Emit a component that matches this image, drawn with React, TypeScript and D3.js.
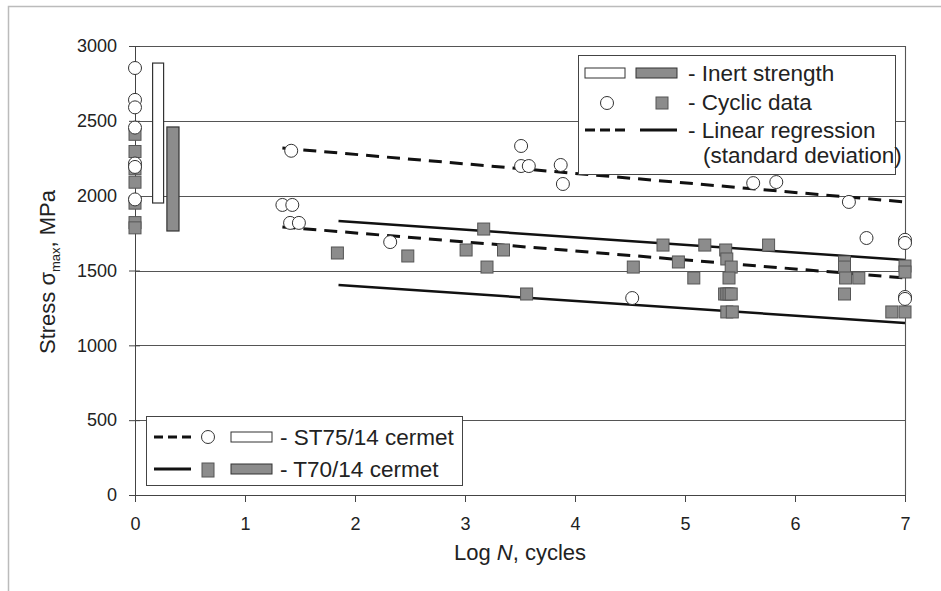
import { useRef, useEffect } from 'react';
import * as d3 from 'd3';

type Pt = [number, number];

// ST75/14 cermet: cyclic data (log N, stress MPa)
const st75Points: Pt[] = [
  [0, 2853], [0, 2640], [0, 2590], [0, 2455], [0, 2215], [0, 2192], [0, 1975],
  [1.42, 2300], [1.34, 1938], [1.43, 1938], [1.41, 1818], [1.49, 1818], [2.32, 1690],
  [3.51, 2332], [3.51, 2198], [3.58, 2198], [3.87, 2205], [3.89, 2078], [4.52, 1316],
  [5.62, 2084], [5.83, 2091], [6.49, 1958], [6.65, 1717],
  [7, 1705], [7, 1684], [7, 1323], [7, 1310],
];

// T70/14 cermet: cyclic data
const t70Points: Pt[] = [
  [0, 2410], [0, 2295], [0, 2180], [0, 2090], [0, 1950], [0, 1820], [0, 1785],
  [1.84, 1617], [2.48, 1597], [3.01, 1637], [3.17, 1777], [3.2, 1523], [3.35, 1637], [3.56, 1343],
  [4.53, 1523], [4.8, 1670], [4.94, 1557], [5.08, 1450], [5.18, 1670],
  [5.37, 1637], [5.38, 1577], [5.42, 1523], [5.4, 1450],
  [5.36, 1343], [5.38, 1343], [5.4, 1343], [5.42, 1343], [5.38, 1223], [5.43, 1223],
  [5.76, 1670], [6.45, 1557], [6.45, 1523], [6.46, 1450], [6.58, 1450], [6.45, 1343],
  [6.88, 1223], [7, 1223], [7, 1530], [7, 1490],
];

// regression +/- standard deviation bands
const st75Bands: Pt[][] = [
  [[1.34, 2318], [7, 1958]],
  [[1.34, 1791], [7, 1450]],
];
const t70Bands: Pt[][] = [
  [[1.85, 1831], [7, 1570]],
  [[1.85, 1403], [7, 1149]],
];

// inert strength ranges: [x0, x1, min, max]
const st75Inert = [0.16, 0.26, 1951, 2886];
const t70Inert = [0.29, 0.4, 1764, 2459];

const yTicks = [0, 500, 1000, 1500, 2000, 2500, 3000];
const xTicks = [0, 1, 2, 3, 4, 5, 6, 7];

const FONT = 'Arial, "Liberation Sans", sans-serif';
const GREY = '#8c8c8c';
const GREY_STROKE = '#555';
const LEGEND_FS = '22.5px';

export default function App() {
  const svgRef = useRef<SVGSVGElement>(null);

  useEffect(() => {
    const svg = d3.select(svgRef.current);
    svg.selectAll('*').remove();

    const W = 941, H = 591;
    const x = d3.scaleLinear().domain([0, 7]).range([135, 905]);
    const y = d3.scaleLinear().domain([0, 3000]).range([495, 46]);

    // outer frame
    svg.append('rect').attr('width', W).attr('height', H).attr('fill', '#fff');
    svg.append('path').attr('d', `M8.5,${H} V6.5 H${W}`)
      .attr('fill', 'none').attr('stroke', '#bbb').attr('stroke-width', 1.5);

    // gridlines
    svg.append('g').selectAll('line').data(yTicks.filter(d => d > 0)).join('line')
      .attr('x1', x(0)).attr('x2', x(7))
      .attr('y1', d => Math.round(y(d)) + 0.5).attr('y2', d => Math.round(y(d)) + 0.5)
      .attr('stroke', '#555').attr('stroke-width', 1.1);
    svg.append('line')
      .attr('x1', x(7) + 0.5).attr('x2', x(7) + 0.5).attr('y1', y(3000)).attr('y2', y(0))
      .attr('stroke', '#555').attr('stroke-width', 1.1);

    // axes
    const yAxis = svg.append('g').attr('transform', `translate(${x(0)},0)`)
      .call(d3.axisLeft(y).tickValues(yTicks).tickFormat(d3.format('d')).tickSizeInner(6).tickSizeOuter(0).tickPadding(12));
    yAxis.selectAll('.tick line').clone().attr('x2', 5);
    yAxis.selectAll('text').style('font-size', '18px').style('font-family', FONT).attr('fill', '#222');
    yAxis.selectAll('line,path').attr('stroke', '#444');

    const xAxis = svg.append('g').attr('transform', `translate(0,${y(0)})`)
      .call(d3.axisBottom(x).tickValues(xTicks).tickFormat(d3.format('d')).tickSizeInner(7).tickSizeOuter(0).tickPadding(15));
    xAxis.selectAll('text').style('font-size', '18px').style('font-family', FONT).attr('fill', '#222');
    xAxis.selectAll('line,path').attr('stroke', '#444');

    // inert strength bars
    const inert = [
      { r: st75Inert, fill: '#fff' },
      { r: t70Inert, fill: GREY },
    ];
    svg.append('g').selectAll('rect').data(inert).join('rect')
      .attr('x', d => x(d.r[0])).attr('width', d => x(d.r[1]) - x(d.r[0]))
      .attr('y', d => y(d.r[3])).attr('height', d => y(d.r[2]) - y(d.r[3]))
      .attr('fill', d => d.fill).attr('stroke', '#333').attr('stroke-width', 1.2);

    // regression lines
    const line = d3.line<Pt>().x(d => x(d[0])).y(d => y(d[1]));
    st75Bands.forEach(b => {
      svg.append('path').attr('d', line(b)).attr('fill', 'none')
        .attr('stroke', '#111').attr('stroke-width', 3).attr('stroke-dasharray', '13,8');
    });
    t70Bands.forEach(b => {
      svg.append('path').attr('d', line(b)).attr('fill', 'none')
        .attr('stroke', '#111').attr('stroke-width', 2.5);
    });

    // cyclic data
    svg.append('g').selectAll('rect').data(t70Points).join('rect')
      .attr('x', d => x(d[0]) - 6).attr('y', d => y(d[1]) - 6)
      .attr('width', 12).attr('height', 12)
      .attr('fill', GREY).attr('stroke', GREY_STROKE);
    svg.append('g').selectAll('circle').data(st75Points).join('circle')
      .attr('cx', d => x(d[0])).attr('cy', d => y(d[1])).attr('r', 6.5)
      .attr('fill', '#fff').attr('stroke', '#333');

    // axis titles
    const yt = svg.append('text').attr('transform', 'translate(55,272) rotate(-90)')
      .attr('text-anchor', 'middle').style('font-family', FONT).style('font-size', '22px').attr('fill', '#222');
    yt.append('tspan').text('Stress σ');
    yt.append('tspan').attr('dy', 5).style('font-size', '13px').text('max');
    yt.append('tspan').attr('dy', -5).text(', MPa');

    const xt = svg.append('text').attr('x', 520).attr('y', 560)
      .attr('text-anchor', 'middle').style('font-family', FONT).style('font-size', '22px').attr('fill', '#222');
    xt.append('tspan').text('Log ');
    xt.append('tspan').style('font-style', 'italic').text('N');
    xt.append('tspan').text(', cycles');

    // legend: symbols meaning
    const lg = svg.append('g');
    lg.append('rect').attr('x', 578.5).attr('y', 55.5).attr('width', 317).attr('height', 119)
      .attr('fill', '#fff').attr('stroke', '#444');
    lg.append('rect').attr('x', 585).attr('y', 68).attr('width', 40).attr('height', 10)
      .attr('fill', '#fff').attr('stroke', '#333');
    lg.append('rect').attr('x', 636).attr('y', 68).attr('width', 41).attr('height', 10)
      .attr('fill', GREY).attr('stroke', '#333');
    lg.append('circle').attr('cx', 607).attr('cy', 103).attr('r', 6.5).attr('fill', '#fff').attr('stroke', '#333');
    lg.append('rect').attr('x', 656).attr('y', 97).attr('width', 12).attr('height', 12)
      .attr('fill', GREY).attr('stroke', GREY_STROKE);
    lg.append('line').attr('x1', 585).attr('x2', 625).attr('y1', 130).attr('y2', 130)
      .attr('stroke', '#111').attr('stroke-width', 3).attr('stroke-dasharray', '10,5');
    lg.append('line').attr('x1', 640).attr('x2', 677).attr('y1', 130).attr('y2', 130)
      .attr('stroke', '#111').attr('stroke-width', 3);
    const lt = [
      { t: '- Inert strength', x: 688, y: 73 },
      { t: '- Cyclic data', x: 688, y: 102 },
      { t: '- Linear regression', x: 688, y: 130 },
      { t: '(standard deviation)', x: 703, y: 155 },
    ];
    lg.selectAll('text.l').data(lt).join('text')
      .attr('x', d => d.x).attr('y', d => d.y).attr('dy', '0.35em')
      .style('font-family', FONT).style('font-size', LEGEND_FS).attr('fill', '#222')
      .text(d => d.t);

    // legend: materials
    const lm = svg.append('g');
    lm.append('rect').attr('x', 146.5).attr('y', 416.5).attr('width', 316).attr('height', 69)
      .attr('fill', '#fff').attr('stroke', '#444');
    lm.append('line').attr('x1', 154).attr('x2', 191).attr('y1', 437).attr('y2', 437)
      .attr('stroke', '#111').attr('stroke-width', 3).attr('stroke-dasharray', '9,5');
    lm.append('circle').attr('cx', 208).attr('cy', 437).attr('r', 6.5).attr('fill', '#fff').attr('stroke', '#333');
    lm.append('rect').attr('x', 231).attr('y', 432).attr('width', 41).attr('height', 10)
      .attr('fill', '#fff').attr('stroke', '#333');
    lm.append('line').attr('x1', 154).attr('x2', 191).attr('y1', 469).attr('y2', 469)
      .attr('stroke', '#111').attr('stroke-width', 3);
    lm.append('rect').attr('x', 202).attr('y', 463).attr('width', 12).attr('height', 14)
      .attr('fill', GREY).attr('stroke', GREY_STROKE);
    lm.append('rect').attr('x', 231).attr('y', 464).attr('width', 41).attr('height', 10)
      .attr('fill', GREY).attr('stroke', '#333');
    const mt = [
      { t: '- ST75/14 cermet', y: 437 },
      { t: '- T70/14 cermet', y: 469 },
    ];
    lm.selectAll('text').data(mt).join('text')
      .attr('x', 280).attr('y', d => d.y).attr('dy', '0.35em')
      .style('font-family', FONT).style('font-size', LEGEND_FS).attr('fill', '#222')
      .text(d => d.t);
  }, []);

  return (
    <svg ref={svgRef} width={941} height={591}
      style={{ position: 'absolute', left: 0, top: 0, display: 'block' }} />
  );
}
